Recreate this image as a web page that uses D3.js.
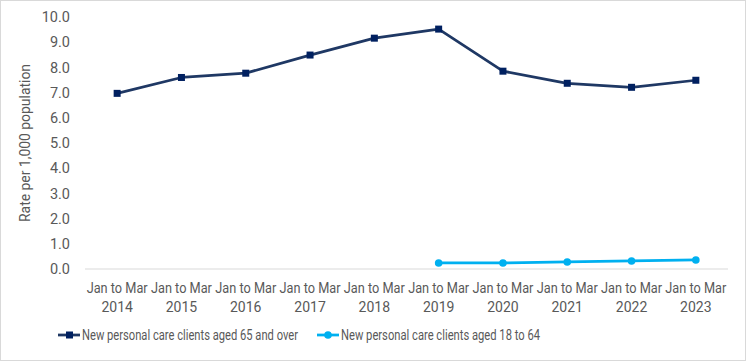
<!DOCTYPE html>
<html>
<head>
<meta charset="utf-8">
<script src="https://cdn.jsdelivr.net/npm/d3@7"></script>
<style>
  body { margin: 0; background: #fff; }
  svg text { font-family: Roboto, "Liberation Sans", sans-serif; fill: #595959; }
</style>
</head>
<body>
<div id="chart"></div>
<script>
var years = ["2014","2015","2016","2017","2018","2019","2020","2021","2022","2023"];
var olderRates = [6.97, 7.6, 7.77, 8.49, 9.16, 9.52, 7.85, 7.37, 7.21, 7.49];
var youngerYears = ["2019","2020","2021","2022","2023"];
var youngerRates = [0.24, 0.24, 0.28, 0.32, 0.36];
var yTicks = [0,1,2,3,4,5,6,7,8,9,10];
var seriesNames = ["New personal care clients aged 65 and over", "New personal care clients aged 18 to 64"];

var W = 746, H = 361;
var margin = { left: 85, right: 18, top: 17, bottom: 92 };
var width = W - margin.left - margin.right;
var height = H - margin.top - margin.bottom;

var svg = d3.select("#chart").append("svg")
    .attr("width", W).attr("height", H);

svg.append("rect")
    .attr("x", 0.5).attr("y", 0.5)
    .attr("width", W - 1).attr("height", H - 1)
    .attr("fill", "#fff").attr("stroke", "#d9d9d9");

var g = svg.append("g")
    .attr("transform", "translate(" + margin.left + "," + margin.top + ")");

var x = d3.scaleBand().domain(years).range([0, width]);
var y = d3.scaleLinear().domain([0, 10]).range([height, 0]);

// y axis labels
var yAxis = d3.axisLeft(y).tickValues(yTicks).tickSize(0).tickPadding(15)
    .tickFormat(d3.format(".1f"));
var yg = g.append("g").call(yAxis);
yg.select(".domain").remove();
yg.selectAll("text").style("font-size", "14.5px").attr("font-family", null);

// zero line
g.append("line")
    .attr("x1", 0).attr("x2", width)
    .attr("y1", y(0)).attr("y2", y(0))
    .attr("stroke", "#d9d9d9").attr("stroke-width", 1);

// x labels
var cx = function(d) { return x(d) + x.bandwidth() / 2; };
var xl = g.selectAll(".xlab").data(years).enter().append("text")
    .attr("class", "xlab")
    .attr("text-anchor", "middle")
    .attr("y", height + 24)
    .style("font-size", "14px");
xl.append("tspan").attr("x", cx)
    .attr("textLength", 61).attr("lengthAdjust", "spacingAndGlyphs")
    .text("Jan to Mar");
xl.append("tspan").attr("x", cx).attr("dy", 19).text(function(d) { return d; });

// y title
g.append("text")
    .attr("transform", "translate(" + (-55) + "," + (height / 2) + ") rotate(-90)")
    .attr("text-anchor", "middle")
    .attr("textLength", 158).attr("lengthAdjust", "spacingAndGlyphs")
    .style("font-size", "14.5px")
    .text("Rate per 1,000 population");

var line = d3.line().x(function(d) { return cx(d[0]); }).y(function(d) { return y(d[1]); });

var older = d3.zip(years, olderRates);
var younger = d3.zip(youngerYears, youngerRates);

g.append("path").datum(older)
    .attr("d", line).attr("fill", "none")
    .attr("stroke", "#1f3864").attr("stroke-width", 2.75).attr("stroke-linejoin", "round");
g.selectAll(".m1").data(older).enter().append("rect")
    .attr("x", function(d) { return cx(d[0]) - 3.5; })
    .attr("y", function(d) { return y(d[1]) - 3.5; })
    .attr("width", 7).attr("height", 7)
    .attr("fill", "#002060");

g.append("path").datum(younger)
    .attr("d", line).attr("fill", "none")
    .attr("stroke", "#00b0f0").attr("stroke-width", 2.75).attr("stroke-linejoin", "round");
g.selectAll(".m2").data(younger).enter().append("circle")
    .attr("cx", function(d) { return cx(d[0]); })
    .attr("cy", function(d) { return y(d[1]); })
    .attr("r", 3.8)
    .attr("fill", "#00b0f0");

// legend
var legX = [58, 317];
var legTextW = [216, 199];
var legColors = ["#1f3864", "#00b0f0"];
var legY = 335;
seriesNames.forEach(function(name, i) {
    var lg = svg.append("g");
    lg.append("line")
        .attr("x1", legX[i]).attr("x2", legX[i] + 22)
        .attr("y1", legY).attr("y2", legY)
        .attr("stroke", legColors[i]).attr("stroke-width", 2.75);
    if (i === 0) {
        lg.append("rect").attr("x", legX[i] + 8).attr("y", legY - 3.5)
            .attr("width", 7).attr("height", 7).attr("fill", "#002060");
    } else {
        lg.append("circle").attr("cx", legX[i] + 11).attr("cy", legY).attr("r", 3.8)
            .attr("fill", "#00b0f0");
    }
    lg.append("text")
        .attr("x", legX[i] + 24).attr("y", legY + 5)
        .attr("textLength", legTextW[i]).attr("lengthAdjust", "spacingAndGlyphs")
        .style("font-size", "14.5px")
        .text(name);
});
</script>
</body>
</html>
